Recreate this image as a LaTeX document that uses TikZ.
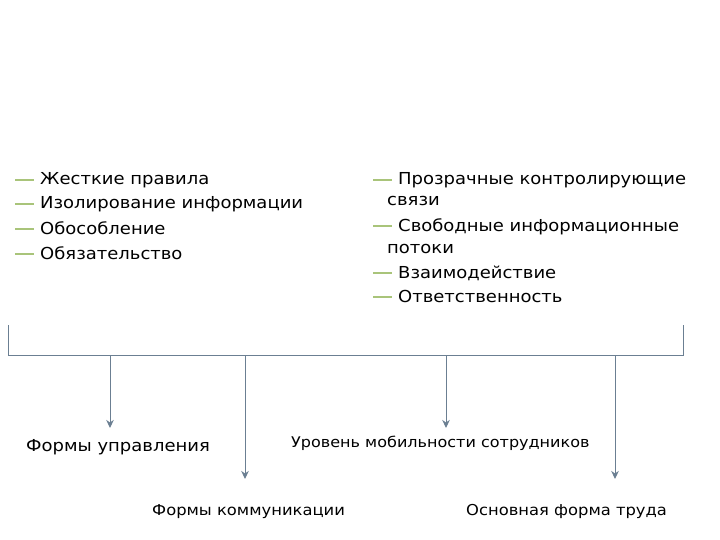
\documentclass[tikz,border=0pt]{standalone}
\usepackage{fontspec}
\setmainfont{DejaVu Sans}[FakeStretch=1.09]
\usetikzlibrary{arrows.meta}
\definecolor{linegray}{HTML}{6B7F92}
\definecolor{dashgreen}{HTML}{A9C47A}
\tikzset{
  item/.style={anchor=base west, inner sep=0pt, font=\fontsize{16.5}{20}\selectfont},
  lbl/.style={anchor=base west, inner sep=0pt, font=\fontsize{16.5}{20}\selectfont},
  lblsmall/.style={anchor=base west, inner sep=0pt, font=\fontsize{15}{18}\selectfont},
  conn/.style={draw=linegray, line width=1pt},
  arr/.style={conn, -{Stealth[width=7.5pt,length=8pt,inset=2.5pt]}},
}
\newcommand{\gd}{\textcolor{dashgreen}{\rule[4.2pt]{19pt}{1.5pt}}\hspace{6pt}}
\begin{document}
\begin{tikzpicture}[x=1pt,y=-1pt]
\useasboundingbox (0,0) rectangle (720,540);
% left list
\node[item] (l1) at (15,185) {\gd Жесткие правила};
\node[item] (l2) at (15,209) {\gd Изолирование информации};
\node[item] (l3) at (15,234) {\gd Обособление};
\node[item] (l4) at (15,259) {\gd Обязательство};
% right list
\node[item] (r1) at (373,185) {\gd Прозрачные контролирующие};
\node[item] (r1b) at (387,206) {связи};
\node[item] (r2) at (373,231) {\gd Свободные информационные};
\node[item] (r2b) at (387,253) {потоки};
\node[item] (r3) at (373,278) {\gd Взаимодействие};
\node[item] (r4) at (373,302) {\gd Ответственность};
% bracket
\coordinate (bl) at (8.5,325);
\coordinate (br) at (683,325);
\coordinate (h1) at (110,355);
\coordinate (h2) at (245,355);
\coordinate (h3) at (446,355);
\coordinate (h4) at (615,355);
\draw[conn] (bl) -- (8.5,355) -- (683,355) -- (br);
\coordinate (t1) at (110,428);
\coordinate (t2) at (245,479);
\coordinate (t3) at (446,428);
\coordinate (t4) at (615,479);
\draw[arr] (h1) -- (t1);
\draw[arr] (h2) -- (t2);
\draw[arr] (h3) -- (t3);
\draw[arr] (h4) -- (t4);
% labels
\node[lbl] (f1) at (26,451) {Формы управления};
\node[lblsmall,font=\fontsize{14.7}{18}\selectfont] (f3) at (291,447) {Уровень мобильности сотрудников};
\node[lblsmall] (f2) at (152,515) {Формы коммуникации};
\node[lblsmall] (f4) at (466,515) {Основная форма труда};
\end{tikzpicture}
\end{document}
